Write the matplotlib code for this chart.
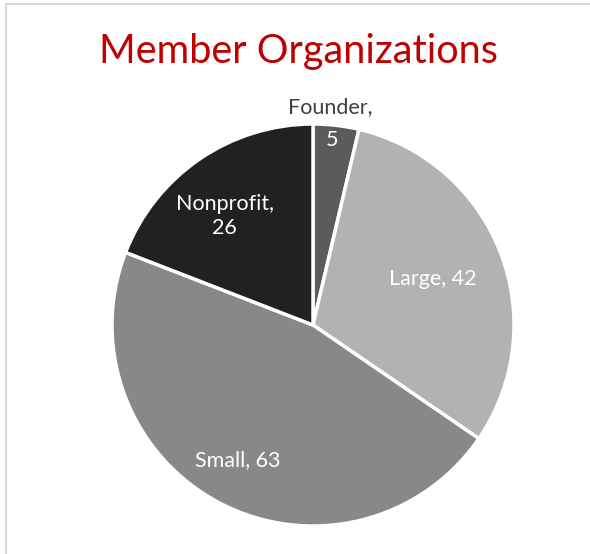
import matplotlib
matplotlib.use("Agg")
import matplotlib.pyplot as plt
from matplotlib.patches import Rectangle
import numpy as np

# data
categories = ["Founder", "Large", "Small", "Nonprofit"]
values = [5, 42, 63, 26]
colors = ["#5b5b5b", "#b2b2b2", "#888888", "#212121"]

W, H = 590, 554
fig = plt.figure(figsize=(W / 100, H / 100), dpi=100)
plt.rcParams["font.family"] = ["Lato", "DejaVu Sans"]

# light frame (chart area border, only left/top visible in the crop)
fig.patches.append(Rectangle((6 / W, -0.1), 1.2, 1 - 4 / H + 0.1,
                             transform=fig.transFigure, fill=False,
                             edgecolor="#d9d9d9", linewidth=1.5))

fig.text(298 / W, 1 - 52 / H, "Member Organizations", color="#c00000",
         fontsize=28.5, ha="center", va="center")

cx, cy, R = 313, 325, 201
ax = fig.add_axes([(cx - R) / W, (H - cy - R) / H, 2 * R / W, 2 * R / H])
wedges, _ = ax.pie(values, colors=colors, startangle=90, counterclock=False,
                   radius=1, wedgeprops=dict(edgecolor="white", linewidth=2.5))
ax.set_xlim(-1, 1)
ax.set_ylim(-1, 1)
ax.set_aspect("equal")
ax.axis("off")

FS = 15.5
# label placement: (fraction of radius, angle shift in degrees)
lab_pos = {"Large": (0.64, 0), "Small": (0.77, -1.5), "Nonprofit": (0.70, 4.5)}
for w, cat, v in zip(wedges, categories, values):
    mid = np.deg2rad((w.theta1 + w.theta2) / 2)
    if cat == "Founder":
        x = 0.92 * np.cos(mid) - 0.01
        ax.text(x, 0.92, str(v), color="white", fontsize=FS,
                ha="center", va="center")
        ax.text(x - 0.01, 1.085, f"{cat},", color="#404040", fontsize=FS,
                ha="center", va="center")
        continue
    r, shift = lab_pos[cat]
    a = mid + np.deg2rad(shift)
    txt = f"{cat},\n{v}" if cat == "Nonprofit" else f"{cat}, {v}"
    ax.text(r * np.cos(a), r * np.sin(a), txt, color="white",
            fontsize=FS, ha="center", va="center", linespacing=1.25)

fig.savefig("out.png", dpi=100)
